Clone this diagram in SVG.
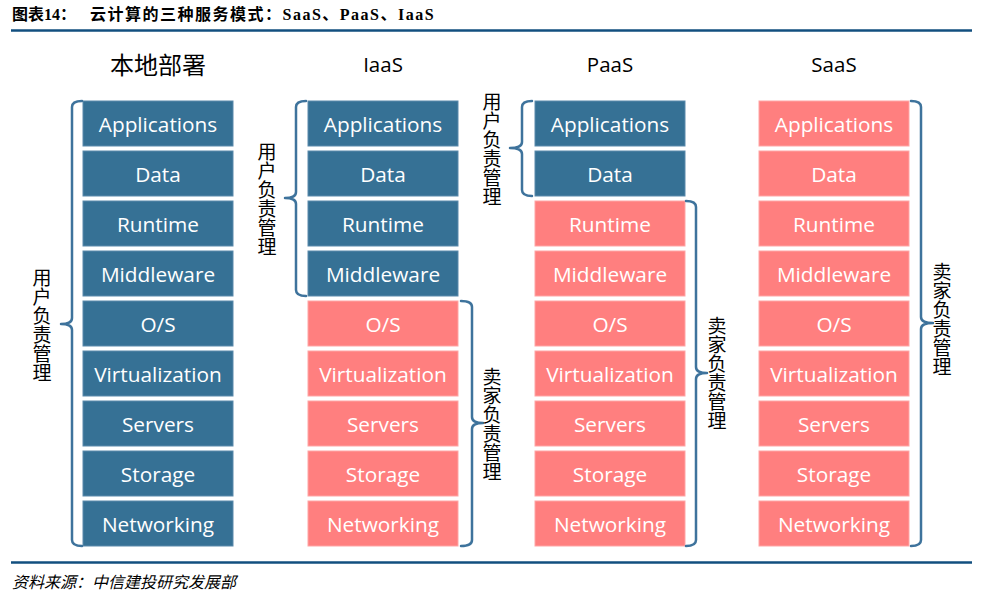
<svg xmlns="http://www.w3.org/2000/svg" width="995" height="606" viewBox="0 0 995 606">
<defs>
<style>
.bg{fill:#ffffff}
.rule{stroke:#124F7F;stroke-width:2.5;fill:none}
.hdr{font-family:"Liberation Serif","Noto Sans CJK SC",serif;font-weight:bold;font-size:16px;fill:#000}
.hdr2{letter-spacing:1.5px}
.foot{font-family:"Liberation Sans","Noto Sans CJK SC",sans-serif;font-style:italic;font-size:16px;fill:#000}
.title{font-family:"Open Sans","Noto Sans CJK SC",sans-serif;font-size:20.5px;fill:#000;text-anchor:middle}
.title-cn{font-family:"Noto Sans CJK SC",sans-serif;font-size:24px;fill:#000;text-anchor:middle}
.u rect{fill:#367195;stroke:#5A8AAB;stroke-width:1}
.v rect{fill:#FF7F7F;stroke:#FFA5A5;stroke-width:1}
.lbl{font-family:"Open Sans","Noto Sans",sans-serif;font-size:20.8px;fill:#ffffff;text-anchor:middle}
.br{stroke:#3E739C;stroke-width:2.5;fill:none;stroke-linecap:round;stroke-linejoin:round}
.vt{font-family:"Noto Sans CJK SC",sans-serif;font-size:19px;fill:#000;writing-mode:vertical-rl;text-anchor:start}
</style>
</defs>
<rect class="bg" x="0" y="0" width="995" height="606"/>
<g id="header">
<text class="hdr" x="12" y="20">图表14：</text>
<text class="hdr hdr2" x="90" y="20">云计算的三种服务模式：SaaS、PaaS、IaaS</text>
<line class="rule" x1="11" y1="30.5" x2="972" y2="30.5"/>
</g>
<g id="titles">
<text class="title-cn" x="158" y="74">本地部署</text>
<text class="title" x="383" y="72">IaaS</text>
<text class="title" x="610" y="72">PaaS</text>
<text class="title" x="834" y="72">SaaS</text>
</g>
<g id="col-onprem">
<g id="onprem-apps" class="u"><rect x="83" y="101" width="150" height="45"/><text class="lbl" x="158" y="131.5">Applications</text></g>
<g id="onprem-data" class="u"><rect x="83" y="151" width="150" height="45"/><text class="lbl" x="158" y="181.5">Data</text></g>
<g id="onprem-runtime" class="u"><rect x="83" y="201" width="150" height="45"/><text class="lbl" x="158" y="231.5">Runtime</text></g>
<g id="onprem-middleware" class="u"><rect x="83" y="251" width="150" height="45"/><text class="lbl" x="158" y="281.5">Middleware</text></g>
<g id="onprem-os" class="u"><rect x="83" y="301" width="150" height="45"/><text class="lbl" x="158" y="331.5">O/S</text></g>
<g id="onprem-virt" class="u"><rect x="83" y="351" width="150" height="45"/><text class="lbl" x="158" y="381.5">Virtualization</text></g>
<g id="onprem-servers" class="u"><rect x="83" y="401" width="150" height="45"/><text class="lbl" x="158" y="431.5">Servers</text></g>
<g id="onprem-storage" class="u"><rect x="83" y="451" width="150" height="45"/><text class="lbl" x="158" y="481.5">Storage</text></g>
<g id="onprem-net" class="u"><rect x="83" y="501" width="150" height="45"/><text class="lbl" x="158" y="531.5">Networking</text></g>
</g>
<g id="col-iaas">
<g id="iaas-apps" class="u"><rect x="308" y="101" width="150" height="45"/><text class="lbl" x="383" y="131.5">Applications</text></g>
<g id="iaas-data" class="u"><rect x="308" y="151" width="150" height="45"/><text class="lbl" x="383" y="181.5">Data</text></g>
<g id="iaas-runtime" class="u"><rect x="308" y="201" width="150" height="45"/><text class="lbl" x="383" y="231.5">Runtime</text></g>
<g id="iaas-middleware" class="u"><rect x="308" y="251" width="150" height="45"/><text class="lbl" x="383" y="281.5">Middleware</text></g>
<g id="iaas-os" class="v"><rect x="308" y="301" width="150" height="45"/><text class="lbl" x="383" y="331.5">O/S</text></g>
<g id="iaas-virt" class="v"><rect x="308" y="351" width="150" height="45"/><text class="lbl" x="383" y="381.5">Virtualization</text></g>
<g id="iaas-servers" class="v"><rect x="308" y="401" width="150" height="45"/><text class="lbl" x="383" y="431.5">Servers</text></g>
<g id="iaas-storage" class="v"><rect x="308" y="451" width="150" height="45"/><text class="lbl" x="383" y="481.5">Storage</text></g>
<g id="iaas-net" class="v"><rect x="308" y="501" width="150" height="45"/><text class="lbl" x="383" y="531.5">Networking</text></g>
</g>
<g id="col-paas">
<g id="paas-apps" class="u"><rect x="535" y="101" width="150" height="45"/><text class="lbl" x="610" y="131.5">Applications</text></g>
<g id="paas-data" class="u"><rect x="535" y="151" width="150" height="45"/><text class="lbl" x="610" y="181.5">Data</text></g>
<g id="paas-runtime" class="v"><rect x="535" y="201" width="150" height="45"/><text class="lbl" x="610" y="231.5">Runtime</text></g>
<g id="paas-middleware" class="v"><rect x="535" y="251" width="150" height="45"/><text class="lbl" x="610" y="281.5">Middleware</text></g>
<g id="paas-os" class="v"><rect x="535" y="301" width="150" height="45"/><text class="lbl" x="610" y="331.5">O/S</text></g>
<g id="paas-virt" class="v"><rect x="535" y="351" width="150" height="45"/><text class="lbl" x="610" y="381.5">Virtualization</text></g>
<g id="paas-servers" class="v"><rect x="535" y="401" width="150" height="45"/><text class="lbl" x="610" y="431.5">Servers</text></g>
<g id="paas-storage" class="v"><rect x="535" y="451" width="150" height="45"/><text class="lbl" x="610" y="481.5">Storage</text></g>
<g id="paas-net" class="v"><rect x="535" y="501" width="150" height="45"/><text class="lbl" x="610" y="531.5">Networking</text></g>
</g>
<g id="col-saas">
<g id="saas-apps" class="v"><rect x="759" y="101" width="150" height="45"/><text class="lbl" x="834" y="131.5">Applications</text></g>
<g id="saas-data" class="v"><rect x="759" y="151" width="150" height="45"/><text class="lbl" x="834" y="181.5">Data</text></g>
<g id="saas-runtime" class="v"><rect x="759" y="201" width="150" height="45"/><text class="lbl" x="834" y="231.5">Runtime</text></g>
<g id="saas-middleware" class="v"><rect x="759" y="251" width="150" height="45"/><text class="lbl" x="834" y="281.5">Middleware</text></g>
<g id="saas-os" class="v"><rect x="759" y="301" width="150" height="45"/><text class="lbl" x="834" y="331.5">O/S</text></g>
<g id="saas-virt" class="v"><rect x="759" y="351" width="150" height="45"/><text class="lbl" x="834" y="381.5">Virtualization</text></g>
<g id="saas-servers" class="v"><rect x="759" y="401" width="150" height="45"/><text class="lbl" x="834" y="431.5">Servers</text></g>
<g id="saas-storage" class="v"><rect x="759" y="451" width="150" height="45"/><text class="lbl" x="834" y="481.5">Storage</text></g>
<g id="saas-net" class="v"><rect x="759" y="501" width="150" height="45"/><text class="lbl" x="834" y="531.5">Networking</text></g>
</g>
<g id="connectors">
<path class="br" d="M82,101 Q72,101 72,107 L72,318 Q72,324 61,324 Q72,324 72,330 L72,540 Q72,546 82,546"/>
<path class="br" d="M306,101 Q296,101 296,107 L296,192 Q296,198 285,198 Q296,198 296,204 L296,290 Q296,296 306,296"/>
<path class="br" d="M461,301 Q472,301 472,307 L472,417 Q472,423 483,423 Q472,423 472,429 L472,540 Q472,546 461,546"/>
<path class="br" d="M532,101 Q522,101 522,107 L522,142 Q522,148 510,148 Q522,148 522,154 L522,190 Q522,196 532,196"/>
<path class="br" d="M686,201 Q696,201 696,207 L696,367 Q696,373 707,373 Q696,373 696,379 L696,540 Q696,546 686,546"/>
<path class="br" d="M911,101 Q921,101 921,107 L921,317 Q921,323 933,323 Q921,323 921,329 L921,540 Q921,546 911,546"/>
</g>
<g id="labels">
<text class="vt" x="42" y="268">用户负责管理</text>
<text class="vt" x="267" y="142">用户负责管理</text>
<text class="vt" x="492" y="92">用户负责管理</text>
<text class="vt" x="492" y="367">卖家负责管理</text>
<text class="vt" x="717" y="316">卖家负责管理</text>
<text class="vt" x="942" y="262">卖家负责管理</text>
</g>
<g id="footer">
<line class="rule" x1="11" y1="562.5" x2="972" y2="562.5"/>
<text class="foot" x="12" y="588">资料来源：中信建投研究发展部</text>
</g>
</svg>
